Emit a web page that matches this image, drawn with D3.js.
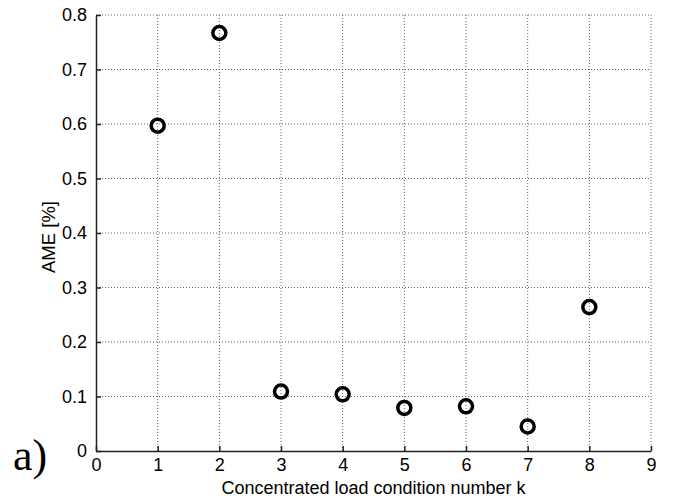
<!DOCTYPE html>
<html>
<head>
<meta charset="utf-8">
<script src="https://cdn.jsdelivr.net/npm/d3@7"></script>
<style>
  body { margin: 0; background: #fff; }
  .tick text { font-family: "Liberation Sans", Arial, sans-serif; }
</style>
</head>
<body>
<div id="chart-area"></div>
<script>
// load condition numbers and AME values
var loadCases = [1, 2, 3, 4, 5, 6, 7, 8];
var ameValues = [0.597, 0.767, 0.109, 0.104, 0.079, 0.082, 0.045, 0.264];
var xTicks = [0, 1, 2, 3, 4, 5, 6, 7, 8, 9];
var yTicks = [0, 0.1, 0.2, 0.3, 0.4, 0.5, 0.6, 0.7, 0.8];

var margin = {left: 96, right: 22, top: 15, bottom: 48};
var width = 673 - margin.left - margin.right;
var height = 499 - margin.top - margin.bottom;

var svg = d3.select("#chart-area")
  .append("svg")
    .attr("width", 673)
    .attr("height", 499);

var g = svg.append("g")
    .attr("transform", "translate(" + margin.left + ", " + margin.top + ")");

var x = d3.scaleLinear().domain([0, 9]).range([0, width]);
var y = d3.scaleLinear().domain([0, 0.8]).range([height, 0]);

// dotted grid
g.append("g").selectAll("line").data(xTicks.slice(1)).enter()
  .append("line")
    .attr("x1", (d) => x(d)).attr("x2", (d) => x(d))
    .attr("y1", 0).attr("y2", height)
    .attr("stroke", "#666").attr("stroke-width", 1)
    .attr("stroke-dasharray", "1,2");

g.append("g").selectAll("line").data(yTicks.slice(1)).enter()
  .append("line")
    .attr("x1", 0).attr("x2", width)
    .attr("y1", (d) => y(d)).attr("y2", (d) => y(d))
    .attr("stroke", "#666").attr("stroke-width", 1)
    .attr("stroke-dasharray", "1,2");

var bottomAxis = d3.axisBottom(x).tickValues(xTicks).tickSizeInner(-5).tickSizeOuter(0)
    .tickPadding(7).tickFormat(d3.format("d"));
var xg = g.append("g")
    .attr("transform", "translate(0, " + height + ")")
    .call(bottomAxis);
xg.selectAll("text").attr("font-size", "18px").attr("fill", "#000");
xg.selectAll("line, path").attr("stroke", "#222").attr("stroke-width", 1.5);

var leftAxis = d3.axisLeft(y).tickValues(yTicks).tickSizeInner(-5).tickSizeOuter(0)
    .tickPadding(9).tickFormat((d) => d === 0 ? "0" : d3.format(".1f")(d));
var yg = g.append("g").call(leftAxis);
yg.selectAll("text").attr("font-size", "18px").attr("fill", "#000");
yg.selectAll("line, path").attr("stroke", "#222").attr("stroke-width", 1.5);

// markers
g.selectAll("circle.pt").data(loadCases).enter()
  .append("circle")
    .attr("class", "pt")
    .attr("cx", (d) => x(d))
    .attr("cy", (d, i) => y(ameValues[i]))
    .attr("r", 6.5)
    .attr("fill", "none")
    .attr("stroke", "#000")
    .attr("stroke-width", 3.5);

g.append("text")
    .attr("x", width / 2)
    .attr("y", height + 43)
    .attr("font-family", "Liberation Sans, Arial, sans-serif")
    .attr("font-size", "18px")
    .attr("text-anchor", "middle")
    .text("Concentrated load condition number k");

g.append("text")
    .attr("x", -(height / 2) - 4)
    .attr("y", -41)
    .attr("font-family", "Liberation Sans, Arial, sans-serif")
    .attr("font-size", "18.5px")
    .attr("text-anchor", "middle")
    .attr("transform", "rotate(-90)")
    .text("AME [%]");

svg.append("text")
    .attr("x", 13)
    .attr("y", 470)
    .attr("font-family", "Liberation Serif, Times New Roman, serif")
    .attr("font-size", "44px")
    .text("a)");
</script>
</body>
</html>
